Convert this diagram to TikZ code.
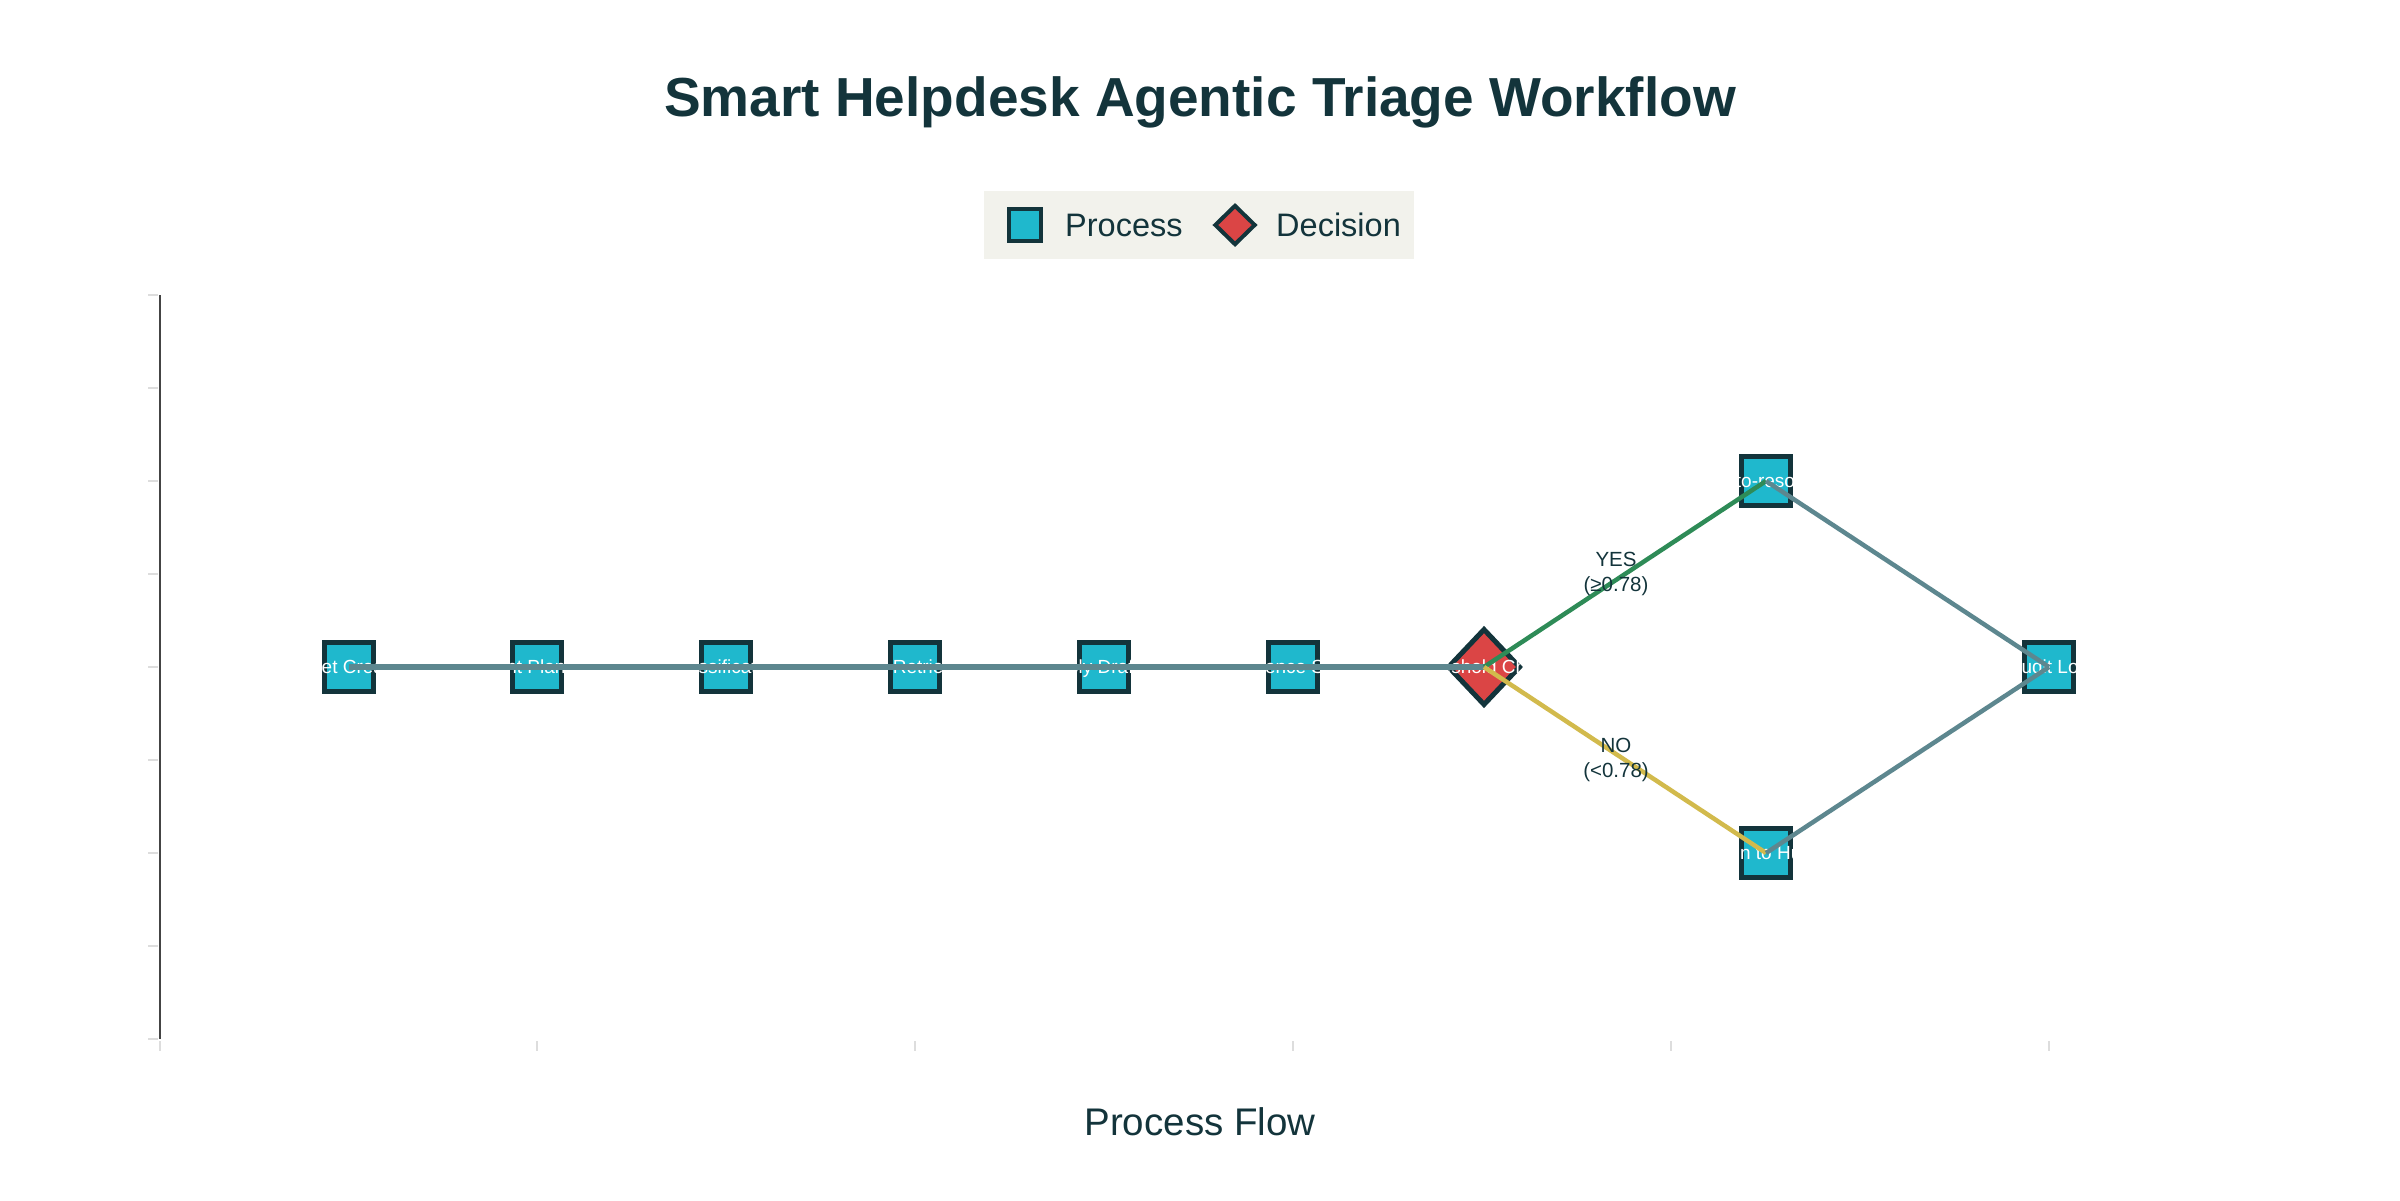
\documentclass[tikz,border=0pt]{standalone}
\usepackage{fontspec}
\setmainfont{Liberation Sans}
\usetikzlibrary{shapes.geometric}

\definecolor{procfill}{HTML}{1FB8CD}
\definecolor{darkline}{HTML}{13343B}
\definecolor{decfill}{HTML}{DB4545}
\definecolor{flowgray}{HTML}{5D878F}
\definecolor{yesgreen}{HTML}{2E8B57}
\definecolor{noyellow}{HTML}{D2BA4C}
\definecolor{legendbg}{HTML}{F2F2EC}
\definecolor{axisgray}{HTML}{444444}
\definecolor{tickgray}{HTML}{DDDDDD}

\begin{document}
\begin{tikzpicture}[%
      x=1pt, y=-1pt,
      process/.style={draw=darkline, fill=procfill, line width=5pt, minimum size=49pt, inner sep=0pt},
      decision/.style={diamond, draw=darkline, fill=decfill, line width=5pt, minimum width=73pt, minimum height=77pt, inner sep=0pt},
      steplabel/.style={text=white, font=\fontsize{19}{21}\selectfont, inner sep=0pt, text height=13.5pt, text depth=0pt},
      flowline/.style={color=flowgray, line width=5.5pt},
      branchline/.style={line width=4.5pt},
      edgelabel/.style={text=darkline, font=\fontsize{20.5}{25}\selectfont, align=center, inner sep=0pt, xshift=-9pt},
      legendtext/.style={text=darkline, font=\fontsize{32.5}{38}\selectfont, inner sep=0pt, anchor=west},
      ]
      \useasboundingbox (0,0) rectangle (2400,1200);

      % title and axis title
      \node[text=darkline, font=\fontsize{55}{60}\selectfont\bfseries] (title) at (1200,102) {Smart Helpdesk Agentic Triage Workflow};
      \node[text=darkline, font=\fontsize{38.5}{44}\selectfont] (xtitle) at (1200,1122) {Process Flow};

      % legend
      \node[fill=legendbg, minimum width=430pt, minimum height=68pt, inner sep=0pt] (legend) at (1199,225) {};
      \node[draw=darkline, fill=procfill, line width=4pt, minimum size=32pt, inner sep=0pt] (legproc) at (1025,225) {};
      \node[legendtext] (legproctext) at (1065,225) {Process};
      \node[diamond, draw=darkline, fill=decfill, line width=4pt, minimum width=41pt, minimum height=40pt, inner sep=0pt] (legdec) at (1235,225) {};
      \node[legendtext] (legdectext) at (1276,225) {Decision};

      % axis
      \draw[color=axisgray, line width=2pt] (160,295) -- (160,1039);
      \draw[color=tickgray, line width=2pt] (148,295) -- (158,295);
      \draw[color=tickgray, line width=2pt] (148,388) -- (158,388);
      \draw[color=tickgray, line width=2pt] (148,481) -- (158,481);
      \draw[color=tickgray, line width=2pt] (148,574) -- (158,574);
      \draw[color=tickgray, line width=2pt] (148,667) -- (158,667);
      \draw[color=tickgray, line width=2pt] (148,760) -- (158,760);
      \draw[color=tickgray, line width=2pt] (148,853) -- (158,853);
      \draw[color=tickgray, line width=2pt] (148,946) -- (158,946);
      \draw[color=tickgray, line width=2pt] (148,1039) -- (158,1039);
      \draw[color=tickgray, line width=2pt] (160,1041) -- (160,1051);
      \draw[color=tickgray, line width=2pt] (537,1041) -- (537,1051);
      \draw[color=tickgray, line width=2pt] (915,1041) -- (915,1051);
      \draw[color=tickgray, line width=2pt] (1293,1041) -- (1293,1051);
      \draw[color=tickgray, line width=2pt] (1671,1041) -- (1671,1051);
      \draw[color=tickgray, line width=2pt] (2049,1041) -- (2049,1051);

      % steps
      \node[process] (created) at (349,667) {};
      \node[process] (planner) at (537,667) {};
      \node[process] (classify) at (726,667) {};
      \node[process] (retrieve) at (915,667) {};
      \node[process] (draft) at (1104,667) {};
      \node[process] (score) at (1293,667) {};
      \node[decision] (check) at (1484,667) {};
      \node[process] (resolve) at (1766,481) {};
      \node[process] (human) at (1766,853) {};
      \node[process] (audit) at (2049,667) {};

      \node[steplabel] (createdtext) at (created) {Ticket Created};
      \node[steplabel] (plannertext) at (planner) {Agent Planning};
      \node[steplabel] (classifytext) at (classify) {Classification};
      \node[steplabel] (retrievetext) at (retrieve) {KB Retrieval};
      \node[steplabel] (drafttext) at (draft) {Reply Drafting};
      \node[steplabel] (scoretext) at (score) {Confidence Scoring};
      \node[steplabel] (checktext) at (check) {Threshold Check};
      \node[steplabel] (resolvetext) at (resolve) {Auto-resolve};
      \node[steplabel] (humantext) at (human) {Assign to Human};
      \node[steplabel] (audittext) at (audit) {Audit Log};

      % connectors
      \draw[flowline] (created.center) -- (planner.center);
      \draw[flowline] (planner.center) -- (classify.center);
      \draw[flowline] (classify.center) -- (retrieve.center);
      \draw[flowline] (retrieve.center) -- (draft.center);
      \draw[flowline] (draft.center) -- (score.center);
      \draw[flowline] (score.center) -- (check.center);
      \draw[branchline, color=yesgreen] (check.center) -- node[edgelabel] (yeslabel) {YES\\(≥0.78)} (resolve.center);
      \draw[branchline, color=noyellow] (check.center) -- node[edgelabel] (nolabel) {NO\\(<0.78)} (human.center);
      \draw[branchline, color=flowgray] (resolve.center) -- (audit.center);
      \draw[branchline, color=flowgray] (human.center) -- (audit.center);
      \end{tikzpicture}
\end{document}
